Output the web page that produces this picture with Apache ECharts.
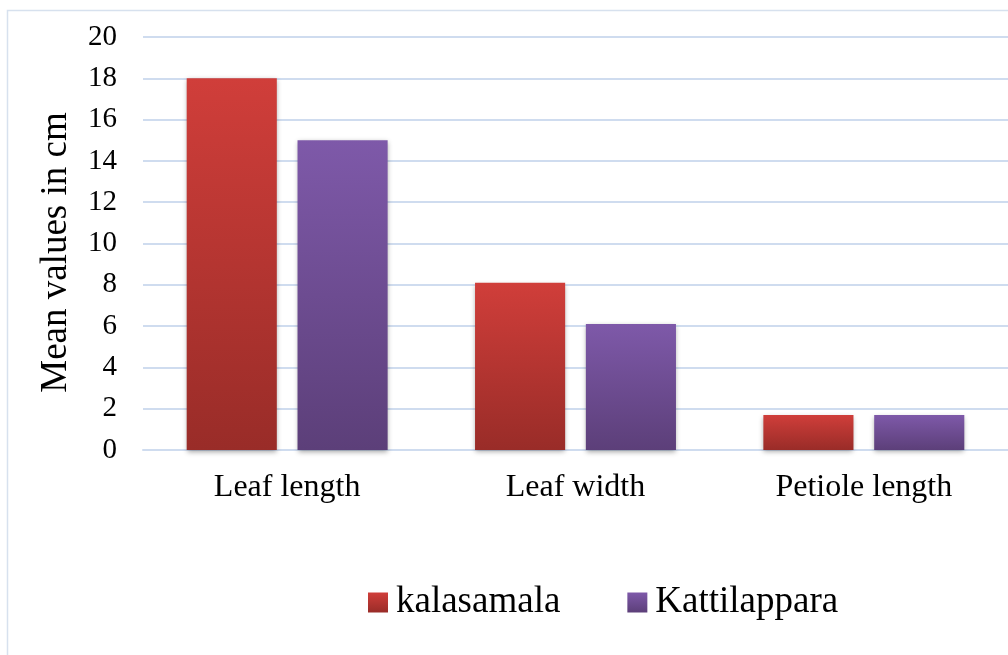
<!DOCTYPE html>
<html>
<head>
<meta charset="utf-8">
<script src="https://cdn.jsdelivr.net/npm/echarts@6/dist/echarts.min.js"></script>
<style>
  html, body { margin: 0; padding: 0; background: #fff; }
  #chart { width: 1008px; height: 655px; }
</style>
</head>
<body>
<div id="chart"></div>
<script>
// data
const categories = ['Leaf length', 'Leaf width', 'Petiole length']
const kalasamala = [18, 8.1, 1.7]
const kattilappara = [15, 6.1, 1.7]
const seriesNames = ['kalasamala', 'Kattilappara']

const font = '"Liberation Serif", "Times New Roman", serif'

const chart = echarts.init(document.getElementById('chart'))

function grad(top, bottom) {
  return new echarts.graphic.LinearGradient(0, 0, 0, 1, [
    { offset: 0, color: top },
    { offset: 1, color: bottom }
  ])
}

const barShadow = {
  shadowBlur: 5,
  shadowColor: 'rgba(0, 0, 0, 0.35)',
  shadowOffsetY: 2
}

chart.setOption({
  animation: false,
  textStyle: { fontFamily: font },
  graphic: [
    {
      type: 'rect',
      shape: { x: 7.5, y: 10.5, width: 1010, height: 660 },
      style: { fill: 'none', stroke: '#d7e1ee', lineWidth: 1.5 },
      silent: true
    }
  ],
  grid: {
    left: 143,
    right: 0,
    top: 37,
    bottom: 205
  },
  legend: {
    data: seriesNames,
    left: 363,
    top: 579,
    itemWidth: 20,
    itemHeight: 20,
    itemGap: 67,
    icon: 'rect',
    textStyle: { fontFamily: font, fontSize: 37, color: '#000', padding: [0, 0, 0, 3] }
  },
  xAxis: {
    type: 'category',
    data: categories,
    axisLine: { lineStyle: { color: '#cfdcef', width: 2 } },
    axisTick: { show: false },
    axisLabel: { color: '#000', fontSize: 32, fontFamily: font, margin: 22 }
  },
  yAxis: {
    type: 'value',
    min: 0,
    max: 20,
    interval: 2,
    name: 'Mean values in cm',
    nameLocation: 'middle',
    nameGap: 68,
    nameRotate: 90,
    nameTextStyle: { color: '#000', fontSize: 37, fontFamily: font, padding: [0, 18, 0, 0] },
    axisLine: { show: false },
    axisTick: { show: false },
    axisLabel: { color: '#000', fontSize: 29, fontFamily: font, margin: 26 },
    splitLine: { lineStyle: { color: '#cfdcef', width: 2 } }
  },
  series: [
    {
      name: seriesNames[0],
      type: 'bar',
      data: kalasamala,
      barWidth: '31.25%',
      barGap: '23%',
      itemStyle: Object.assign({ color: grad('#d03e3a', '#992c28') }, barShadow)
    },
    {
      name: seriesNames[1],
      type: 'bar',
      data: kattilappara,
      barWidth: '31.25%',
      itemStyle: Object.assign({ color: grad('#7e59a9', '#5c3f79') }, barShadow)
    }
  ]
})
</script>
</body>
</html>
